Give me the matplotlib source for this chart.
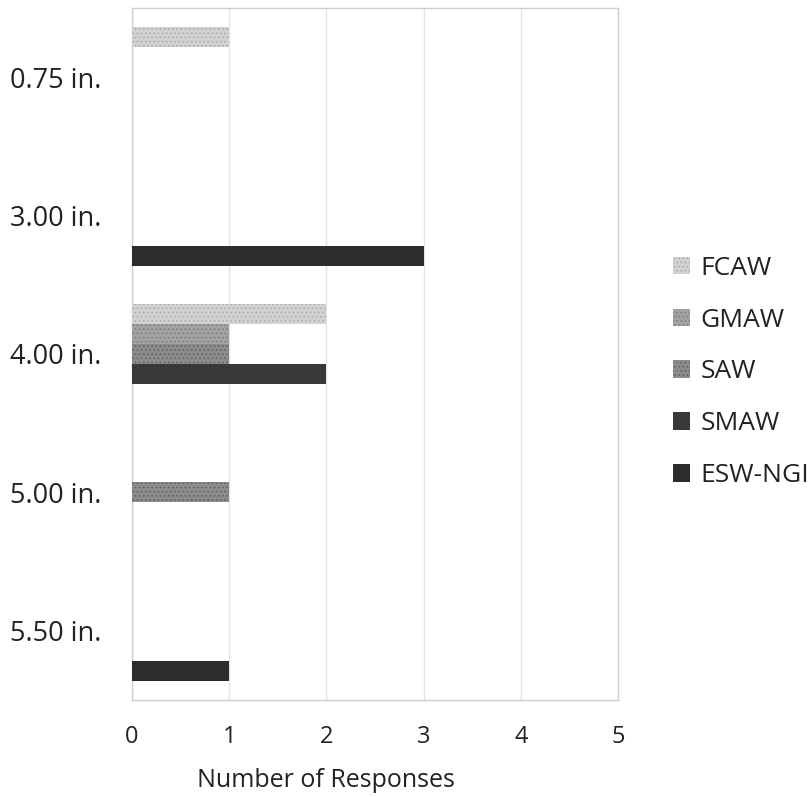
import matplotlib
matplotlib.use("Agg")
import matplotlib.pyplot as plt
import numpy as np
from matplotlib.patches import Patch

plt.rcParams['font.family'] = ['Open Sans', 'DejaVu Sans']
plt.rcParams['hatch.linewidth'] = 0.6

categories = ["0.75 in.", "3.00 in.", "4.00 in.", "5.00 in.", "5.50 in."]
series = ["FCAW", "GMAW", "SAW", "SMAW", "ESW-NGI"]
fcaw = [1, 0, 2, 0, 0]
gmaw = [0, 0, 1, 0, 0]
saw = [0, 0, 1, 1, 0]
smaw = [0, 0, 2, 0, 0]
esw_ngi = [0, 3, 0, 0, 1]
x_ticks = [0, 1, 2, 3, 4, 5]

values = [fcaw, gmaw, saw, smaw, esw_ngi]
fills = ["#d2d2d2", "#a2a2a2", "#8c8c8c", "#383838", "#2c2c2c"]
hatch_cols = ["#a8a8a8", "#7a7a7a", "#5e5e5e", "#2a2a2a", "#222222"]
hatches = ["....", "....", "....", None, None]

fig = plt.figure(figsize=(8.12, 7.97), dpi=100)
ax = fig.add_axes([132 / 812, 1 - 700 / 797, 486 / 812, 692 / 797])

y = np.arange(len(categories))
h = 0.145
for i, (name, vals) in enumerate(zip(series, values)):
    ax.barh(y + (i - 2) * h, vals, height=h, color=fills[i],
            hatch=hatches[i], edgecolor=hatch_cols[i], linewidth=0,
            label=name, zorder=3)

ax.set_xlim(0, 5)
ax.set_ylim(len(categories) - 0.5, -0.5)
ax.set_xticks(x_ticks)
ax.set_xticklabels([str(t) for t in x_ticks], fontsize=17)
ax.set_yticks(y)
ax.set_yticklabels(categories, fontsize=19.5)
ax.tick_params(axis='both', length=0, colors="#222222")
ax.tick_params(axis='x', pad=18)
ax.tick_params(axis='y', pad=22)
ax.set_xlabel("Number of Responses", fontsize=18, color="#222222",
              labelpad=14, x=0.4)
ax.xaxis.grid(True, color="#e4e4e4", linewidth=1.0, zorder=0)
for s in ax.spines.values():
    s.set_color("#cfcfcf")
    s.set_linewidth(1.0)

handles = [Patch(facecolor=fills[i], edgecolor=hatch_cols[i], hatch=hatches[i],
                 linewidth=0, label=series[i]) for i in range(len(series))]
fig.legend(handles=handles, loc="center left", bbox_to_anchor=(673 / 812, 1 - 372 / 797),
           frameon=False, fontsize=19, handlelength=0.65, handleheight=0.65,
           handletextpad=0.38, labelspacing=1.02, borderpad=0, borderaxespad=0,
           labelcolor="#222222")

fig.savefig("out.png", dpi=100)
